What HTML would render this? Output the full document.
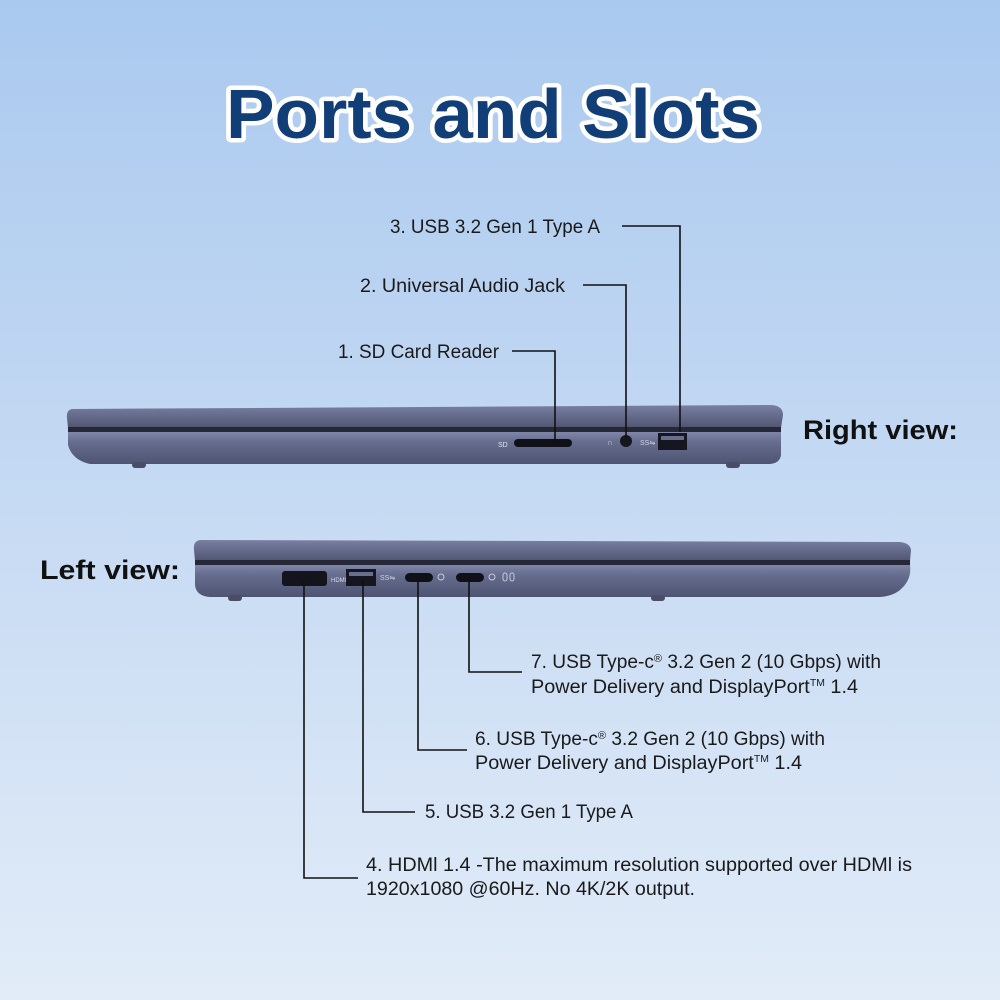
<!DOCTYPE html>
<html><head><meta charset="utf-8"><style>
html,body{margin:0;padding:0;width:1000px;height:1000px;overflow:hidden}
svg{display:block}
text{font-family:"Liberation Sans","DejaVu Sans",sans-serif}
</style></head><body>
<svg width="1000" height="1000" viewBox="0 0 1000 1000" xmlns="http://www.w3.org/2000/svg">
<defs>
<linearGradient id="bg" x1="0" y1="0" x2="0" y2="1">
<stop offset="0" stop-color="#aac9ef"/><stop offset="0.5" stop-color="#c6daf3"/><stop offset="1" stop-color="#e2ecf8"/>
</linearGradient>
<linearGradient id="lid" x1="0" y1="0" x2="0" y2="1">
<stop offset="0" stop-color="#7a80a2"/><stop offset="0.4" stop-color="#686e90"/><stop offset="1" stop-color="#50566f"/>
</linearGradient>
<linearGradient id="base" x1="0" y1="0" x2="0" y2="1">
<stop offset="0" stop-color="#8086a8"/><stop offset="0.3" stop-color="#676d8e"/><stop offset="1" stop-color="#4e5472"/>
</linearGradient>
</defs>
<rect width="1000" height="1000" fill="url(#bg)"/>
<text x="493" y="138" text-anchor="middle" font-family="DejaVu Sans" font-weight="bold" font-size="70" fill="#123e78" stroke="#ffffff" stroke-width="9" paint-order="stroke" stroke-linejoin="round" textLength="534" lengthAdjust="spacingAndGlyphs">Ports and Slots</text>

<!-- Right laptop -->
<path d="M72 409 Q66 410 67 418 L68 428 L781 428 L783 415 Q783 406 772 405 Z" fill="url(#lid)"/>
<rect x="68" y="427" width="713" height="5" fill="#262838"/>
<path d="M68 432 L781 432 L781 455 Q780 463 770 464 L90 464 Q72 460 68 445 Z" fill="url(#base)"/>
<rect x="132" y="462" width="14" height="6" rx="3" fill="#4a4d66"/>
<rect x="726" y="462" width="14" height="6" rx="3" fill="#4a4d66"/>
<text x="498" y="447" font-size="7" fill="#e0e2ee">SD</text>
<rect x="514" y="439" width="58" height="8" rx="4" fill="#101118"/>
<circle cx="626" cy="441" r="6" fill="#15161f"/>
<text x="607" y="445" font-size="8" fill="#d0d3e0">∩</text>
<text x="640" y="445" font-size="7" fill="#d0d3e0">SS⇋</text>
<rect x="658" y="433" width="29" height="17" fill="#15161f"/>
<rect x="661" y="436" width="23" height="4" fill="#6a6e8e"/>
<text x="803" y="439" font-size="27" font-weight="bold" fill="#111" textLength="155" lengthAdjust="spacingAndGlyphs">Right view:</text>

<!-- Left laptop -->
<path d="M200 540 Q193 541 194 550 L195 561 L910 561 L911 550 Q910 543 900 542 Z" fill="url(#lid)"/>
<rect x="195" y="560" width="715" height="5" fill="#262838"/>
<path d="M195 565 L910 565 Q912 580 900 590 Q893 596 880 597 L210 597 Q196 596 195 585 Z" fill="url(#base)"/>
<rect x="228" y="595" width="14" height="6" rx="3" fill="#4a4d66"/>
<rect x="651" y="595" width="14" height="6" rx="3" fill="#4a4d66"/>
<rect x="282" y="571" width="45" height="15" rx="3" fill="#13141c"/>
<text x="331" y="582" font-size="6" fill="#d8dae6">HDMI</text>
<rect x="346" y="569" width="30" height="17" fill="#15161f"/>
<rect x="349" y="572" width="24" height="4" fill="#6a6e8e"/>
<text x="380" y="580" font-size="7" fill="#d0d3e0">SS⇋</text>
<rect x="405" y="573" width="28" height="9" rx="4.5" fill="#101118"/>
<circle cx="441" cy="577" r="3" fill="none" stroke="#c8cbda" stroke-width="1"/>
<rect x="456" y="573" width="28" height="9" rx="4.5" fill="#101118"/>
<circle cx="492" cy="577" r="3" fill="none" stroke="#c8cbda" stroke-width="1"/>
<rect x="503" y="573" width="4" height="8" rx="2" fill="none" stroke="#c8cbda" stroke-width="1"/>
<rect x="510" y="573" width="4" height="8" rx="2" fill="none" stroke="#c8cbda" stroke-width="1"/>
<text x="40" y="579" font-size="27" font-weight="bold" fill="#111" textLength="140" lengthAdjust="spacingAndGlyphs">Left  view:</text>

<!-- callout lines -->
<g fill="none" stroke="#111" stroke-width="1.6">
<path d="M622 226 H680 V432"/>
<path d="M583 285 H626 V437"/>
<path d="M512 351 H555 V441"/>
<path d="M304 580 V878 H358"/>
<path d="M363 580 V812 H415"/>
<path d="M418 582 V750 H467"/>
<path d="M469 582 V672 H522"/>
</g>

<g font-size="19" fill="#1a1a1a">
<text x="390" y="233" textLength="210" lengthAdjust="spacingAndGlyphs">3. USB 3.2 Gen 1 Type A</text>
<text x="360" y="292" textLength="205" lengthAdjust="spacingAndGlyphs">2. Universal Audio Jack</text>
<text x="338" y="358" textLength="161" lengthAdjust="spacingAndGlyphs">1. SD Card Reader</text>
<text x="531" y="668" textLength="350" lengthAdjust="spacingAndGlyphs">7. USB Type-c<tspan font-size="11" dy="-6">®</tspan><tspan dy="6"> 3.2 Gen 2 (10 Gbps) with</tspan></text>
<text x="531" y="693" textLength="327" lengthAdjust="spacingAndGlyphs">Power Delivery and DisplayPort<tspan font-size="10" dy="-7">TM</tspan><tspan dy="7"> 1.4</tspan></text>
<text x="475" y="745" textLength="350" lengthAdjust="spacingAndGlyphs">6. USB Type-c<tspan font-size="11" dy="-6">®</tspan><tspan dy="6"> 3.2 Gen 2 (10 Gbps) with</tspan></text>
<text x="475" y="769" textLength="327" lengthAdjust="spacingAndGlyphs">Power Delivery and DisplayPort<tspan font-size="10" dy="-7">TM</tspan><tspan dy="7"> 1.4</tspan></text>
<text x="425" y="818" textLength="208" lengthAdjust="spacingAndGlyphs">5. USB 3.2 Gen 1 Type A</text>
<text x="366" y="871" textLength="546" lengthAdjust="spacingAndGlyphs">4. HDMl 1.4 -The maximum resolution supported over HDMl is</text>
<text x="366" y="895" textLength="329" lengthAdjust="spacingAndGlyphs">1920x1080 @60Hz. No 4K/2K output.</text>
</g>
</svg>
</body></html>
